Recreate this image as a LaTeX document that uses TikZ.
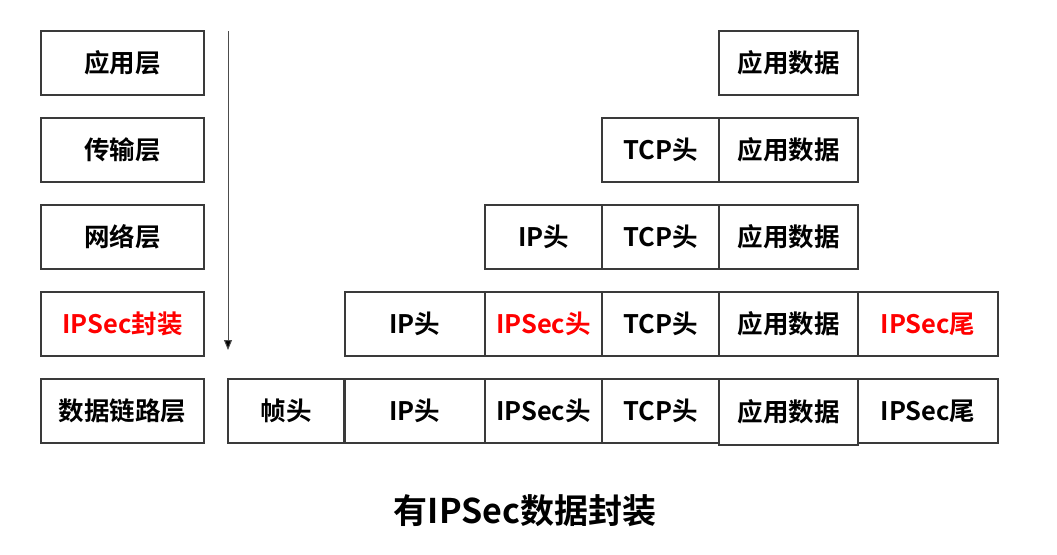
\documentclass[tikz,border=0pt]{standalone}
\usepackage{fontspec}
\setmainfont{Noto Sans CJK SC}[BoldFont={Noto Sans CJK SC Bold}]
\usetikzlibrary{arrows.meta}
\definecolor{boxline}{HTML}{3A3A3A}
\definecolor{ipred}{HTML}{FF0000}
\tikzset{
  box/.style={draw=boxline, line width=1.3pt, rectangle, inner sep=0pt,
    minimum height=64pt, font=\fontsize{25.5}{30}\selectfont\bfseries},
  lay/.style={box, minimum width=163pt},
  w116/.style={minimum width=116pt},
  w117/.style={minimum width=117pt},
  w140/.style={minimum width=140pt},
  w139/.style={minimum width=139pt},
  hot/.style={text=ipred},
  flow/.style={draw=black!70, line width=1pt, -{Triangle[length=10pt,width=8pt,fill=black]}},
  title/.style={font=\fontsize{34}{40}\selectfont\bfseries}
}
\begin{document}
\begin{tikzpicture}[x=1pt,y=-1pt]
\useasboundingbox (0,0) rectangle (1057,554);
% left layer column
\node[lay] (app)  at (122.5,63)  {应用层};
\node[lay] (tra)  at (122.5,150) {传输层};
\node[lay] (net)  at (122.5,237) {网络层};
\node[lay,hot] (ips) at (122.5,324) {IPSec封装};
\node[lay] (dl)   at (122.5,411) {数据链路层};
% arrow
\coordinate (aTop) at (228,31);
\coordinate (aBot) at (228,350);
\draw[flow] (aTop) -- (aBot);
% row 1
\node[box,w139] (r1d) at (788.5,63) {应用数据};
% row 2
\node[box,w117] (r2t) at (660.5,150) {TCP头};
\node[box,w139] (r2d) at (788.5,150) {应用数据};
% row 3
\node[box,w117] (r3i) at (543.5,237) {IP头};
\node[box,w117] (r3t) at (660.5,237) {TCP头};
\node[box,w139] (r3d) at (788.5,237) {应用数据};
% row 4
\node[box,w140] (r4i) at (415,324) {IP头};
\node[box,w117,hot] (r4h) at (543.5,324) {IPSec头};
\node[box,w117] (r4t) at (660.5,324) {TCP头};
\node[box,w139] (r4d) at (788.5,324) {应用数据};
\node[box,w140,hot] (r4e) at (928,324) {IPSec尾};
% row 5
\node[box,w116] (r5f) at (286,411) {帧头};
\node[box,w140] (r5i) at (415,411) {IP头};
\node[box,w117] (r5h) at (543.5,411) {IPSec头};
\node[box,w117] (r5t) at (660.5,411) {TCP头};
\node[box,w139,minimum height=66pt] (r5d) at (788.5,412) {应用数据};
\node[box,w140] (r5e) at (928,411) {IPSec尾};
% title
\node[title] (ttl) at (525,511) {有IPSec数据封装};
\end{tikzpicture}
\end{document}
